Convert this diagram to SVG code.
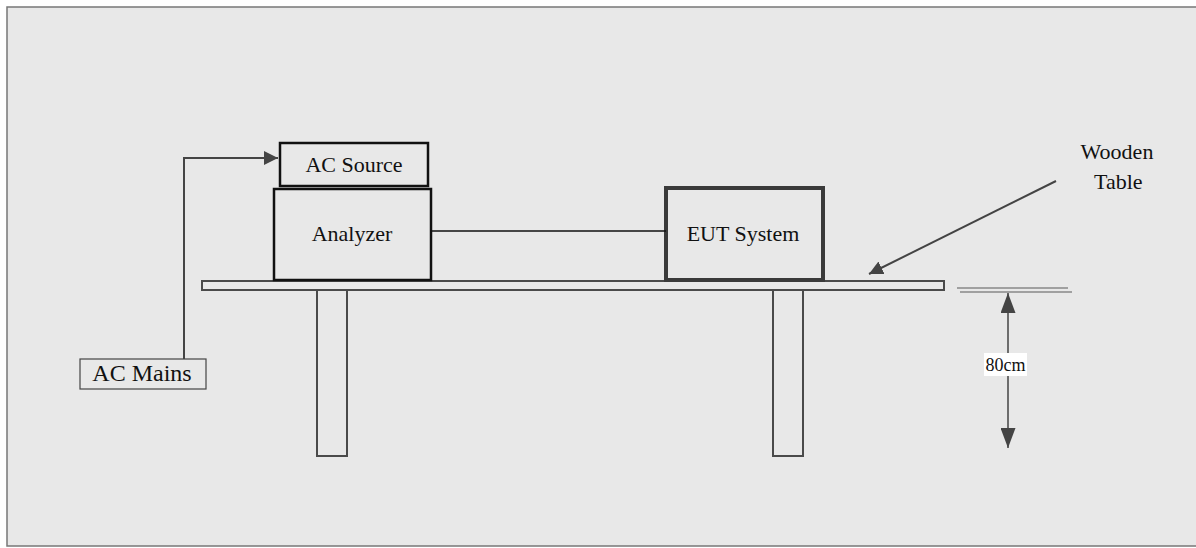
<svg xmlns="http://www.w3.org/2000/svg" width="1196" height="548" viewBox="0 0 1196 548">
<defs>
<style>
text{font-family:"Liberation Serif","Times New Roman",serif;fill:#111;}
.box{fill:none;stroke:#111;stroke-width:2.5;}
.gray{fill:none;stroke:#4a4a4a;stroke-width:2;}
.conn{fill:none;stroke:#444;stroke-width:2;}
</style>
<marker id="ah" viewBox="0 0 10 10" refX="10" refY="5" markerWidth="7" markerHeight="7" markerUnits="strokeWidth" orient="auto">
<path d="M0,0 L10,5 L0,10 z" fill="#444"/>
</marker>
<marker id="ah2" viewBox="0 0 20 15" refX="20" refY="7.5" markerWidth="20" markerHeight="15" markerUnits="userSpaceOnUse" orient="auto-start-reverse">
<path d="M0,0 L20,7.5 L0,15 z" fill="#444"/>
</marker>
</defs>
<rect x="0" y="0" width="1196" height="548" fill="#ffffff"/>
<rect x="7" y="7" width="1195" height="539" fill="#e8e8e8" stroke="#777" stroke-width="1.5"/>

<g id="table">
<rect x="202" y="281" width="742" height="9" fill="#e8e8e8" stroke="#4a4a4a" stroke-width="2"/>
<rect x="317" y="290" width="30" height="166" class="gray"/>
<rect x="773" y="290" width="30" height="166" class="gray"/>
</g>

<g id="ac-source">
<rect x="280" y="143" width="148" height="43" class="box"/>
<text x="354" y="172" font-size="22" text-anchor="middle" font-family="Liberation Serif, serif">AC Source</text>
</g>

<g id="analyzer">
<rect x="274" y="189" width="157" height="91" class="box"/>
<text x="352" y="241" font-size="22" text-anchor="middle" font-family="Liberation Serif, serif">Analyzer</text>
</g>

<g id="eut">
<rect x="666" y="188" width="157" height="92" fill="none" stroke="#3a3a3a" stroke-width="4"/>
<text x="743" y="241" font-size="22" text-anchor="middle" font-family="Liberation Serif, serif">EUT System</text>
</g>

<g id="ac-mains">
<rect x="80" y="359" width="126" height="30" fill="none" stroke="#444" stroke-width="1.2"/>
<text x="142" y="381" font-size="24" text-anchor="middle" font-family="Liberation Serif, serif">AC Mains</text>
</g>

<g id="wooden-table-label">
<text x="1117" y="159" font-size="22" text-anchor="middle" font-family="Liberation Serif, serif">Wooden</text>
<text x="1094" y="189" font-size="22" font-family="Liberation Serif, serif">Table</text>
</g>

<g id="height-dim">
<line x1="957" y1="288" x2="1068" y2="288" stroke="#888" stroke-width="1.5"/>
<line x1="960" y1="292" x2="1072" y2="292" stroke="#888" stroke-width="1.5"/>
<line x1="1008" y1="293" x2="1008" y2="448" stroke="#444" stroke-width="1.5" marker-start="url(#ah2)" marker-end="url(#ah2)"/>
<rect x="984" y="353" width="43" height="23" fill="#ffffff"/>
<text x="1005.5" y="371" font-size="18" text-anchor="middle" font-family="Liberation Serif, serif">80cm</text>
</g>

<g id="connectors">
<polyline points="184,359 184,158 278,158" class="conn" marker-end="url(#ah)"/>
<line x1="431" y1="231" x2="666" y2="231" stroke="#111" stroke-width="1.5"/>
<line x1="1056" y1="181" x2="869" y2="274" class="conn" marker-end="url(#ah)"/>
</g>
</svg>
